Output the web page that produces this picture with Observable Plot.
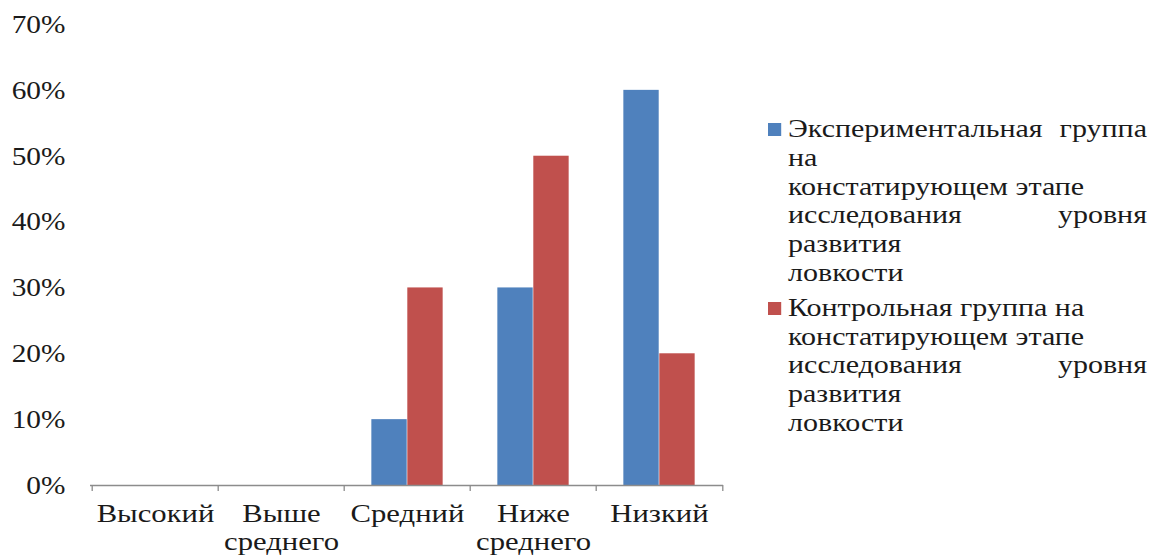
<!DOCTYPE html>
<html>
<head>
<meta charset="utf-8">
<script src="https://cdn.jsdelivr.net/npm/d3@7"></script>
<script src="https://cdn.jsdelivr.net/npm/@observablehq/plot@0.6"></script>
<style>
  html, body { margin: 0; padding: 0; background: #fff; }
  #wrap { position: relative; width: 1151px; height: 556px; overflow: hidden; }
  #legend { position: absolute; left: 768px; top: 115px; width: 315.8px;
            transform: scaleX(1.2); transform-origin: 0 0;
            font-family: "Liberation Serif", "DejaVu Serif", "Times New Roman", serif; font-size: 25px;
            line-height: 28.8px; color: #1a1a1a; }
  .entry { position: relative; padding-left: 16.7px; margin-bottom: 6px; }
  .swatch { position: absolute; left: 0; top: 8px; width: 11px; height: 13px; }
  .line { white-space: nowrap; }
  .just { display: flex; justify-content: space-between; }
</style>
</head>
<body>
<div id="wrap">
  <div id="chart"></div>
  <div id="legend"></div>
</div>
<script>
const categories = ["Высокий", "Выше\nсреднего", "Средний", "Ниже\nсреднего", "Низкий"];
const seriesNames = [
  "Экспериментальная группа на констатирующем этапе исследования уровня развития ловкости",
  "Контрольная группа на констатирующем этапе исследования уровня развития ловкости"
];
const experimental = [0, 0, 0.10, 0.30, 0.60];
const control = [0, 0, 0.30, 0.50, 0.20];
const yTicks = [0, 0.1, 0.2, 0.3, 0.4, 0.5, 0.6, 0.7];
const seriesColors = ["#4F81BD", "#C0504D"];
// legend line breaks as in the original (lines to be justified marked true)
const legendLines = [
  [["Экспериментальная группа", true], ["на", false], ["констатирующем этапе", false], ["исследования уровня", true], ["развития", false], ["ловкости", false]],
  [["Контрольная группа на", false], ["констатирующем этапе", false], ["исследования уровня", true], ["развития", false], ["ловкости", false]]
];

const W = 1151, H = 556;
const mL = 90, mR = 428, mT = 24, mB = 71;
const step = (W - mL - mR) / categories.length;
const plotH = H - mT - mB;

const expData = categories.map((c, i) => ({cat: c, v: experimental[i]}));
const ctrlData = categories.map((c, i) => ({cat: c, v: control[i]}));

const chart = Plot.plot({
  width: W, height: H,
  marginLeft: mL, marginRight: mR, marginTop: mT, marginBottom: mB,
  style: {fontFamily: "'Liberation Serif', 'DejaVu Serif', 'Times New Roman', serif", fontSize: "26px", color: "#1a1a1a", background: "#fff"},
  x: {domain: categories, padding: 0},
  y: {domain: [0, 0.7]},
  marks: [
    Plot.barY(expData, {x: "cat", y: "v", fill: seriesColors[0], insetLeft: step * 0.216, insetRight: step * 0.5}),
    Plot.barY(ctrlData, {x: "cat", y: "v", fill: seriesColors[1], insetLeft: step * 0.5, insetRight: step * 0.216}),
    Plot.ruleY([0], {stroke: "#8c8c8c", strokeWidth: 1.3}),
    Plot.ruleX(categories, {x: d => d, dx: -step / 2, stroke: "#8c8c8c", strokeWidth: 1.3, insetTop: plotH, insetBottom: -6}),
    Plot.ruleX([categories[categories.length - 1]], {x: d => d, dx: step / 2, stroke: "#8c8c8c", strokeWidth: 1.3, insetTop: plotH, insetBottom: -6}),
    Plot.axisY({ticks: yTicks, tickFormat: d3.format(".0%"), tickSize: 0, tickPadding: 25, label: null, fill: "#1a1a1a"}),
    Plot.axisX({tickSize: 0, tickPadding: 17, label: null, lineHeight: 1.06, fill: "#1a1a1a"})
  ]
});
document.getElementById("chart").appendChild(chart);

// widen the tick label glyphs horizontally, as in the original picture
function widen(selector, s) {
  chart.querySelectorAll(selector).forEach(t => {
    let tr = t.getAttribute("transform");
    if (!tr) {
      const x = +t.getAttribute("x") || 0, y = +t.getAttribute("y") || 0;
      t.setAttribute("x", 0); t.setAttribute("y", 0);
      tr = `translate(${x},${y})`;
    }
    t.setAttribute("transform", tr + ` scale(${s},1)`);
  });
}
widen('g[aria-label="y-axis tick label"] text', 1.13);
widen('g[aria-label="x-axis tick label"] text', 1.18);

const legend = d3.select("#legend");
legendLines.forEach((lines, s) => {
  const entry = legend.append("div").attr("class", "entry").attr("title", seriesNames[s]);
  entry.append("div").attr("class", "swatch").style("background", seriesColors[s]);
  lines.forEach(([txt, just]) => {
    const ln = entry.append("div").attr("class", just ? "line just" : "line");
    if (just) txt.split(" ").forEach(w => ln.append("span").text(w));
    else ln.text(txt);
  });
});
</script>
</body>
</html>
